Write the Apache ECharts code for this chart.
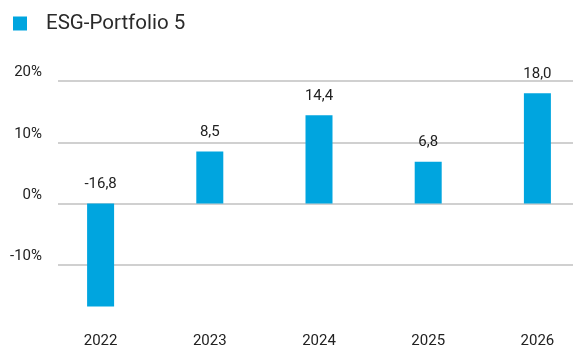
<!DOCTYPE html>
<html>
<head>
<meta charset="utf-8">
<script src="https://cdn.jsdelivr.net/npm/echarts@6/dist/echarts.min.js"></script>
<style>
  html, body { margin: 0; padding: 0; background: #fff; }
  #chart { width: 573px; height: 349px; }
</style>
</head>
<body>
<div id="chart"></div>
<script>
// Annual returns of the portfolio, in percent
const seriesName = 'ESG-Portfolio 5';
const years = ['2022', '2023', '2024', '2025', '2026'];
const returns = [-16.8, 8.5, 14.4, 6.8, 18.0];
const yTicks = [-20, -10, 0, 10, 20];

const textColor = '#222222';
const barColor = '#00a5df';
const gridColor = '#c0c0c0';
const fontFamily = 'Roboto, "Noto Sans", sans-serif';

const chart = echarts.init(document.getElementById('chart'));

const fmtComma = v => v.toFixed(1).replace('.', ',');

chart.setOption({
  animation: false,
  textStyle: { fontFamily: fontFamily },
  legend: {
    left: 13,
    top: 13,
    padding: 0,
    itemWidth: 14,
    itemHeight: 14,
    icon: 'rect',
    textStyle: { fontSize: 20.5, color: '#2a2a2a', padding: [0, 0, 0, 14], fontFamily: fontFamily },
    data: [seriesName]
  },
  grid: [
    // bar area
    { left: 46, top: 81, width: 546, height: 245, outerBoundsMode: 'none', containLabel: false },
    // gridlines and percentage labels
    { left: 58, top: 81, right: 0, height: 245, outerBoundsMode: 'none', containLabel: false }
  ],
  xAxis: [
    {
      gridIndex: 0,
      type: 'category',
      data: years,
      axisLine: { show: false },
      axisTick: { show: false },
      axisLabel: { color: textColor, fontSize: 15, margin: 8, fontFamily: fontFamily }
    },
    { gridIndex: 1, type: 'value', show: false, min: 0, max: 1 }
  ],
  yAxis: [
    {
      gridIndex: 0,
      type: 'value',
      min: yTicks[0],
      max: yTicks[yTicks.length - 1],
      interval: 10,
      show: false
    },
    {
      gridIndex: 1,
      type: 'value',
      min: yTicks[0],
      max: yTicks[yTicks.length - 1],
      interval: 10,
      axisLine: { show: false },
      axisTick: { show: false },
      axisLabel: {
        color: textColor,
        fontSize: 15,
        margin: 16,
        verticalAlign: 'bottom',
        padding: [0, 0, 1, 0],
        fontFamily: fontFamily,
        formatter: v => (v === yTicks[0] ? '' : v + '%')
      },
      splitLine: {
        show: true,
        lineStyle: { color: ['rgba(0,0,0,0)', gridColor, gridColor, gridColor, gridColor], width: 1.5 }
      }
    }
  ],
  series: [
    {
      name: seriesName,
      type: 'bar',
      xAxisIndex: 0,
      yAxisIndex: 0,
      data: returns,
      barWidth: 27,
      itemStyle: { color: barColor },
      label: {
        show: true,
        position: 'top',
        distance: 12,
        color: textColor,
        fontSize: 15,
        fontFamily: fontFamily,
        formatter: p => fmtComma(p.value)
      }
    }
  ]
});
</script>
</body>
</html>
